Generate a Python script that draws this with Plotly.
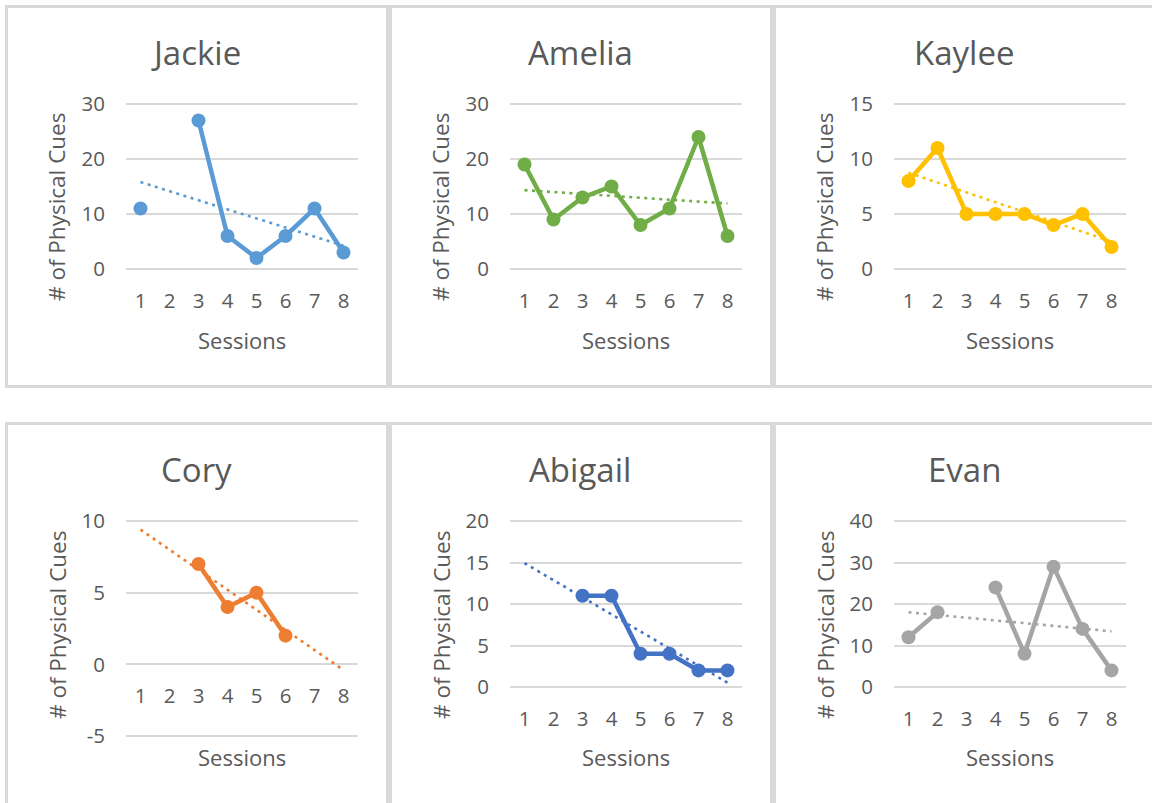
import numpy as np
import plotly.graph_objects as go

W, H = 1152, 803

# ---- data -------------------------------------------------------------
sessions = [1, 2, 3, 4, 5, 6, 7, 8]
students = ["Jackie", "Amelia", "Kaylee", "Cory", "Abigail", "Evan"]

jackie = [11, None, 27, 6, 2, 6, 11, 3]
amelia = [19, 9, 13, 15, 8, 11, 24, 6]
kaylee = [8, 11, 5, 5, 5, 4, 5, 2]
cory = [None, None, 7, 4, 5, 2, None, None]
abigail = [None, None, 11, 11, 4, 4, 2, 2]
evan = [12, 18, None, 24, 8, 29, 14, 4]

y_ticks_jackie = [0, 10, 20, 30]
y_ticks_amelia = [0, 10, 20, 30]
y_ticks_kaylee = [0, 5, 10, 15]
y_ticks_cory = [-5, 0, 5, 10]
y_ticks_abigail = [0, 5, 10, 15, 20]
y_ticks_evan = [0, 10, 20, 30, 40]

series = [jackie, amelia, kaylee, cory, abigail, evan]
y_ticks = [y_ticks_jackie, y_ticks_amelia, y_ticks_kaylee,
           y_ticks_cory, y_ticks_abigail, y_ticks_evan]

# ---- styling ------------------------------------------------------------
colors = ["#5B9BD5", "#70AD47", "#FFC000", "#ED7D31", "#4472C4", "#A5A5A5"]
TEXT = "#595959"
GRID = "#D9D9D9"
FONT = "Open Sans"

COL_OFF = [0, 384, 768]
PLOT_X = (126, 358)            # plot area left/right in the first column (px)
ROW_PLOT_Y = [(104, 269), (521, 687)]
CORY_PLOT_Y = (521, 736)       # Cory's axis runs below zero
EDGE_PX = 4                    # extra room so the outer gridlines are drawn
TITLE_Y = [52, 469]
YTITLE_Y = [207, 625]
XTITLE_Y = [340, 757]
PANEL_BOX_Y = [(6.5, 386.5), (423.5, 806)]
PANEL_BOX_X = [(6.5, 387.5), (390.5, 771.5), (774.5, 1155.5)]


def fx(p):
    return p / W


def fy(p):
    return 1 - p / H


fig = go.Figure()
annotations = []
shapes = []

for i, (name, vals, ticks, col) in enumerate(zip(students, series, y_ticks, colors)):
    row, c = divmod(i, 3)
    off = COL_OFF[c]
    x0, x1 = PLOT_X[0] + off, PLOT_X[1] + off
    py0, py1 = CORY_PLOT_Y if name == "Cory" else ROW_PLOT_Y[row]
    k = "" if i == 0 else str(i + 1)
    ymin, ymax = ticks[0], ticks[-1]
    pad = (ymax - ymin) / (py1 - py0) * EDGE_PX

    # linear trend over the recorded sessions, drawn across all sessions
    xs = np.array([s for s, v in zip(sessions, vals) if v is not None], float)
    ys = np.array([v for v in vals if v is not None], float)
    slope, icpt = np.polyfit(xs, ys, 1)
    trend = [slope * s + icpt for s in sessions]

    fig.add_trace(go.Scatter(
        x=sessions, y=trend, mode="lines",
        line=dict(color=col, width=2.6, dash="3px,4.5px"),
        xaxis="x" + k, yaxis="y" + k, showlegend=False, hoverinfo="skip"))
    fig.add_trace(go.Scatter(
        x=sessions, y=vals, mode="lines+markers", connectgaps=False,
        line=dict(color=col, width=4.5),
        marker=dict(color=col, size=14),
        xaxis="x" + k, yaxis="y" + k, showlegend=False, name=name))

    xaxis = dict(
        domain=[fx(x0), fx(x1)], range=[0.5, 8.5], tickmode="array",
        tickvals=sessions, ticktext=[str(s) for s in sessions],
        showgrid=False, zeroline=False, showline=False, ticks="",
        ticklabelstandoff=13, automargin=False,
        tickfont=dict(family=FONT, size=20.5, color=TEXT),
        anchor="y" + k, fixedrange=True)
    if ymin < 0:
        # category labels sit just under the zero line
        zero_px = py0 + (ymax - 0) / (ymax - ymin) * (py1 - py0)
        xaxis.update(anchor="free", position=fy(zero_px), ticklabelstandoff=17)
    yaxis = dict(
        domain=[fy(py1 + EDGE_PX), fy(py0 - EDGE_PX)],
        range=[ymin - pad, ymax + pad],
        tickmode="array", tickvals=ticks, ticktext=[str(t) for t in ticks],
        showgrid=True, gridcolor=GRID, gridwidth=1.6,
        zeroline=False, showline=False, ticks="",
        ticklabelstandoff=20, automargin=False,
        tickfont=dict(family=FONT, size=20.5, color=TEXT),
        anchor="x" + k, fixedrange=True)
    fig.update_layout({"xaxis" + k: xaxis, "yaxis" + k: yaxis})

    # chart title
    annotations.append(dict(
        text=name, x=fx(196 + off), y=fy(TITLE_Y[row]), xref="paper", yref="paper",
        showarrow=False, xanchor="center", yanchor="middle",
        font=dict(family=FONT, size=33, color=TEXT)))
    # axis titles
    annotations.append(dict(
        text="# of Physical Cues", x=fx(57 + off), y=fy(YTITLE_Y[row]),
        xref="paper", yref="paper", showarrow=False, textangle=-90,
        xanchor="center", yanchor="middle",
        font=dict(family=FONT, size=22.5, color=TEXT)))
    annotations.append(dict(
        text="Sessions", x=fx((x0 + x1) / 2), y=fy(XTITLE_Y[row]),
        xref="paper", yref="paper", showarrow=False,
        xanchor="center", yanchor="middle",
        font=dict(family=FONT, size=22, color=TEXT)))

    # panel frame
    bx0, bx1 = PANEL_BOX_X[c]
    by0, by1 = PANEL_BOX_Y[row]
    shapes.append(dict(
        type="rect", xref="paper", yref="paper",
        x0=fx(bx0), x1=fx(bx1), y0=fy(by1), y1=fy(by0),
        line=dict(color=GRID, width=3), fillcolor="rgba(0,0,0,0)", layer="below"))

fig.update_layout(
    width=W, height=H, margin=dict(l=0, r=0, t=0, b=0, pad=0, autoexpand=False),
    paper_bgcolor="white", plot_bgcolor="white",
    annotations=annotations, shapes=shapes, showlegend=False)

fig.write_html("out.html", config={"displayModeBar": False})
